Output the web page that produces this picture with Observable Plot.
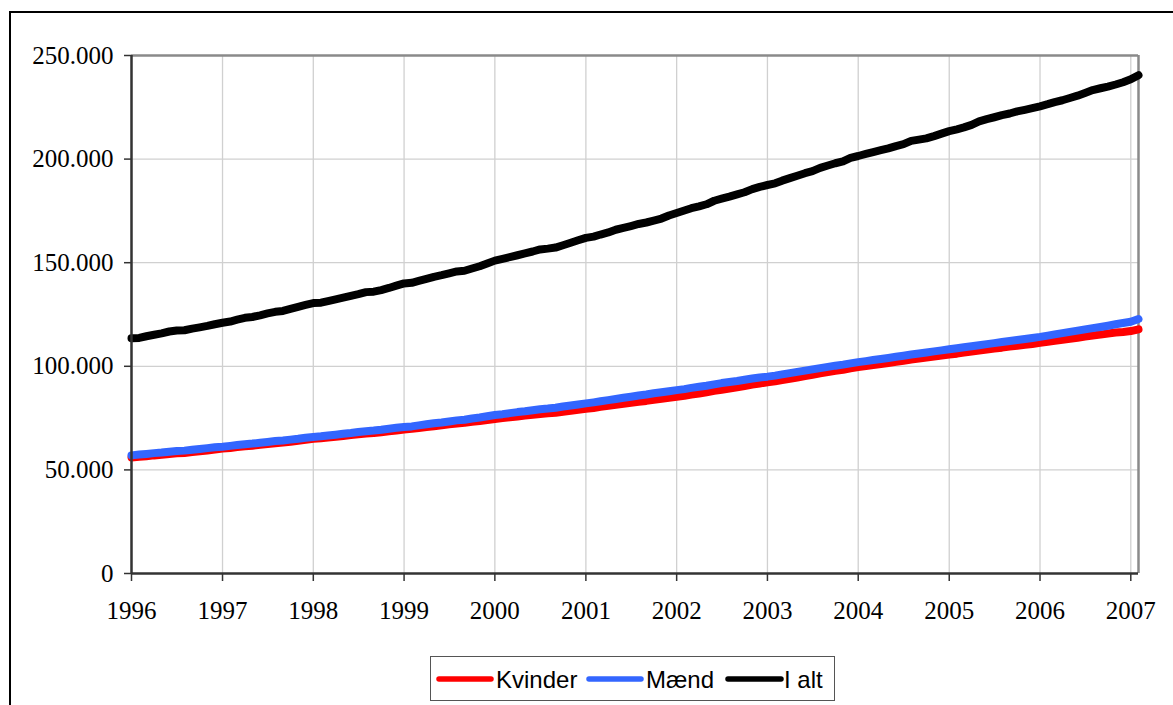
<!DOCTYPE html>
<html>
<head>
<meta charset="utf-8">
<script src="https://cdn.jsdelivr.net/npm/d3@7"></script>
<script src="https://cdn.jsdelivr.net/npm/@observablehq/plot@0.6"></script>
<style>
  html, body { margin: 0; padding: 0; background: #fff; width: 1173px; height: 705px; overflow: hidden; }
  #frame { position: absolute; left: 9px; top: 11px; width: 1300px; height: 800px; border-left: 2.5px solid #000; border-top: 2px solid #000; }
  #chart { position: absolute; left: 0; top: 0; }
  #legend { position: absolute; left: 430px; top: 656px; width: 405px; height: 45px; border: 1px solid #555; box-sizing: border-box; background: #fff; }
</style>
</head>
<body>
<div id="frame"></div>
<div id="chart"></div>
<div id="legend"></div>
<script>
// Monthly values, January 1996 – February 2007 (thousand persons)
const startMonth = "1996-01-01";
const seriesNames = ["Kvinder", "Mænd", "I alt"];
const seriesColors = ["#ff0000", "#3366ff", "#000000"];

const kvinder = [
  56.0, 56.3, 56.6, 57.0, 57.3, 57.7, 58.0, 58.2, 58.6, 59.0, 59.4, 59.8,
  60.3, 60.6, 61.0, 61.4, 61.7, 62.1, 62.5, 62.9, 63.2, 63.6, 64.1, 64.5,
  65.0, 65.3, 65.6, 66.0, 66.4, 66.8, 67.2, 67.6, 67.8, 68.2, 68.6, 69.0,
  69.5, 69.8, 70.2, 70.7, 71.1, 71.5, 72.0, 72.4, 72.7, 73.2, 73.6, 74.1,
  74.6, 75.0, 75.4, 75.8, 76.2, 76.6, 77.0, 77.3, 77.6, 78.1, 78.5, 79.0,
  79.5, 79.9, 80.4, 80.9, 81.4, 81.9, 82.4, 82.9, 83.3, 83.8, 84.3, 84.8,
  85.3, 85.8, 86.4, 86.9, 87.5, 88.2, 88.7, 89.3, 89.9, 90.5, 91.2, 91.7,
  92.3, 92.8, 93.4, 94.0, 94.6, 95.3, 95.9, 96.6, 97.2, 97.8, 98.3, 99.0,
  99.6, 100.1, 100.6, 101.1, 101.6, 102.2, 102.7, 103.3, 103.7, 104.2, 104.7, 105.2,
  105.7, 106.1, 106.6, 107.1, 107.6, 108.1, 108.6, 109.0, 109.5, 109.9, 110.4, 110.8,
  111.3, 111.8, 112.3, 112.8, 113.3, 113.8, 114.4, 114.9, 115.3, 115.8, 116.3, 116.6,
  117.0, 117.8
];
const maend = [
  57.0, 57.4, 57.7, 58.1, 58.4, 58.8, 59.1, 59.3, 59.7, 60.1, 60.5, 60.9,
  61.2, 61.6, 62.0, 62.4, 62.7, 63.1, 63.5, 63.9, 64.2, 64.6, 65.0, 65.5,
  65.9, 66.2, 66.6, 67.0, 67.4, 67.8, 68.3, 68.7, 69.0, 69.4, 69.9, 70.3,
  70.7, 71.0, 71.5, 72.0, 72.5, 72.9, 73.4, 73.9, 74.2, 74.8, 75.3, 75.9,
  76.5, 76.9, 77.4, 77.9, 78.3, 78.8, 79.3, 79.6, 80.0, 80.6, 81.1, 81.6,
  82.1, 82.6, 83.1, 83.7, 84.2, 84.8, 85.3, 85.9, 86.4, 87.0, 87.5, 88.0,
  88.5, 89.0, 89.6, 90.1, 90.6, 91.3, 91.9, 92.4, 92.9, 93.5, 94.1, 94.6,
  95.0, 95.5, 96.1, 96.7, 97.3, 97.9, 98.5, 99.1, 99.7, 100.3, 100.8, 101.4,
  102.0, 102.5, 103.0, 103.5, 104.0, 104.6, 105.1, 105.7, 106.2, 106.7, 107.2, 107.7,
  108.2, 108.7, 109.2, 109.7, 110.2, 110.7, 111.2, 111.7, 112.2, 112.7, 113.2, 113.7,
  114.2, 114.8, 115.4, 116.0, 116.6, 117.2, 117.8, 118.4, 119.0, 119.6, 120.3, 120.9,
  121.5, 122.8
];
const ialt = [
  113.5, 113.7, 114.5, 115.2, 115.9, 116.8, 117.3, 117.4, 118.2, 118.8, 119.5, 120.3,
  121.0, 121.6, 122.5, 123.4, 123.8, 124.6, 125.5, 126.3, 126.7, 127.7, 128.7, 129.6,
  130.5, 130.7, 131.5, 132.3, 133.1, 134.0, 134.8, 135.8, 136.0, 136.8, 137.8, 138.9,
  140.0, 140.3, 141.2, 142.2, 143.2, 144.0, 144.9, 145.8, 146.1, 147.2, 148.3, 149.6,
  151.0, 151.9, 152.7, 153.6, 154.5, 155.4, 156.4, 156.8, 157.3, 158.4, 159.6, 160.8,
  162.0, 162.6, 163.6, 164.6, 165.9, 166.8, 167.7, 168.7, 169.4, 170.3, 171.3, 172.8,
  174.0, 175.2, 176.3, 177.2, 178.2, 179.9, 180.9, 181.9, 183.0, 184.0, 185.5, 186.6,
  187.5, 188.3, 189.6, 190.8, 192.0, 193.2, 194.2, 195.8, 196.9, 198.0, 198.9, 200.6,
  201.5, 202.5, 203.4, 204.3, 205.2, 206.3, 207.2, 208.8, 209.4, 210.0, 211.1, 212.3,
  213.5, 214.4, 215.3, 216.5, 218.2, 219.3, 220.2, 221.2, 222.0, 223.0, 223.8, 224.6,
  225.5, 226.5, 227.5, 228.4, 229.5, 230.6, 231.9, 233.3, 234.2, 235.0, 236.0, 237.1,
  238.5, 240.5
];
const yTicks = [0, 50000, 100000, 150000, 200000, 250000];
const xTickYears = [1996, 1997, 1998, 1999, 2000, 2001, 2002, 2003, 2004, 2005, 2006, 2007];

// Build table
const seriesValues = [kvinder, maend, ialt];
const months = d3.utcMonth.range(new Date(startMonth), d3.utcMonth.offset(new Date(startMonth), kvinder.length));
const rows = [];
seriesValues.forEach((vals, s) => {
  vals.forEach((v, i) => rows.push({date: months[i], value: v * 1000, series: seriesNames[s]}));
});
const xTicks = xTickYears.map(y => new Date(Date.UTC(y, 0, 1)));
const xMin = months[0], xMax = months[months.length - 1];
const fmtY = d => d3.format(",")(d).replace(/,/g, ".");

const chart = Plot.plot({
  width: 1173,
  height: 625,
  marginLeft: 131,
  marginRight: 35,
  marginTop: 55,
  marginBottom: 52,
  style: {fontFamily: "'Liberation Serif', 'Times New Roman', serif", fontSize: "25px", color: "#000", background: "transparent"},
  x: {type: "utc", domain: [xMin, xMax]},
  y: {domain: [0, 250000]},
  color: {domain: seriesNames, range: seriesColors},
  marks: [
    Plot.ruleX(xTicks, {stroke: "#d0d0d0", strokeWidth: 1.3}),
    Plot.ruleY(yTicks.slice(1, -1), {stroke: "#d0d0d0", strokeWidth: 1.3}),
    Plot.ruleY([250000], {stroke: "#8a8a8a", strokeWidth: 2.5}),
    Plot.ruleX([xMax], {stroke: "#8a8a8a", strokeWidth: 2.5}),
    Plot.lineY(rows, {x: "date", y: "value", z: "series", stroke: "series", strokeWidth: 8, strokeLinejoin: "round", strokeLinecap: "round"}),
    Plot.ruleX([xMin], {stroke: "#333", strokeWidth: 2.5}),
    Plot.ruleY([0], {stroke: "#333", strokeWidth: 2.5}),
    Plot.axisY({ticks: yTicks, tickSize: 7, tickPadding: 11, tickFormat: fmtY, stroke: "#333", strokeWidth: 1.5, fill: "#000", fontSize: 25, label: null}),
    Plot.axisX({ticks: xTicks, tickSize: 8, tickPadding: 20, tickFormat: d3.utcFormat("%Y"), stroke: "#333", strokeWidth: 1.5, fill: "#000", fontSize: 25, label: null})
  ]
});
document.getElementById("chart").appendChild(chart);

// Legend
const legendItems = [
  {name: seriesNames[0], color: seriesColors[0], x1: 8, x2: 60, tx: 65},
  {name: seriesNames[1], color: seriesColors[1], x1: 158, x2: 210, tx: 215},
  {name: seriesNames[2], color: seriesColors[2], x1: 297, x2: 350, tx: 353}
];
const ns = "http://www.w3.org/2000/svg";
const lsvg = document.createElementNS(ns, "svg");
lsvg.setAttribute("width", 403); lsvg.setAttribute("height", 43);
lsvg.style.position = "absolute"; lsvg.style.left = "0"; lsvg.style.top = "0";
legendItems.forEach(it => {
  const l = document.createElementNS(ns, "line");
  l.setAttribute("x1", it.x1); l.setAttribute("x2", it.x2);
  l.setAttribute("y1", 22); l.setAttribute("y2", 22);
  l.setAttribute("stroke", it.color); l.setAttribute("stroke-width", 5.5);
  l.setAttribute("stroke-linecap", "round");
  lsvg.appendChild(l);
  const t = document.createElementNS(ns, "text");
  t.setAttribute("x", it.tx); t.setAttribute("y", 30.5);
  t.setAttribute("font-family", "'Liberation Sans', Arial, sans-serif");
  t.setAttribute("font-size", "24px");
  t.setAttribute("fill", "#000");
  t.textContent = it.name;
  lsvg.appendChild(t);
});
document.getElementById("legend").appendChild(lsvg);
</script>
</body>
</html>
